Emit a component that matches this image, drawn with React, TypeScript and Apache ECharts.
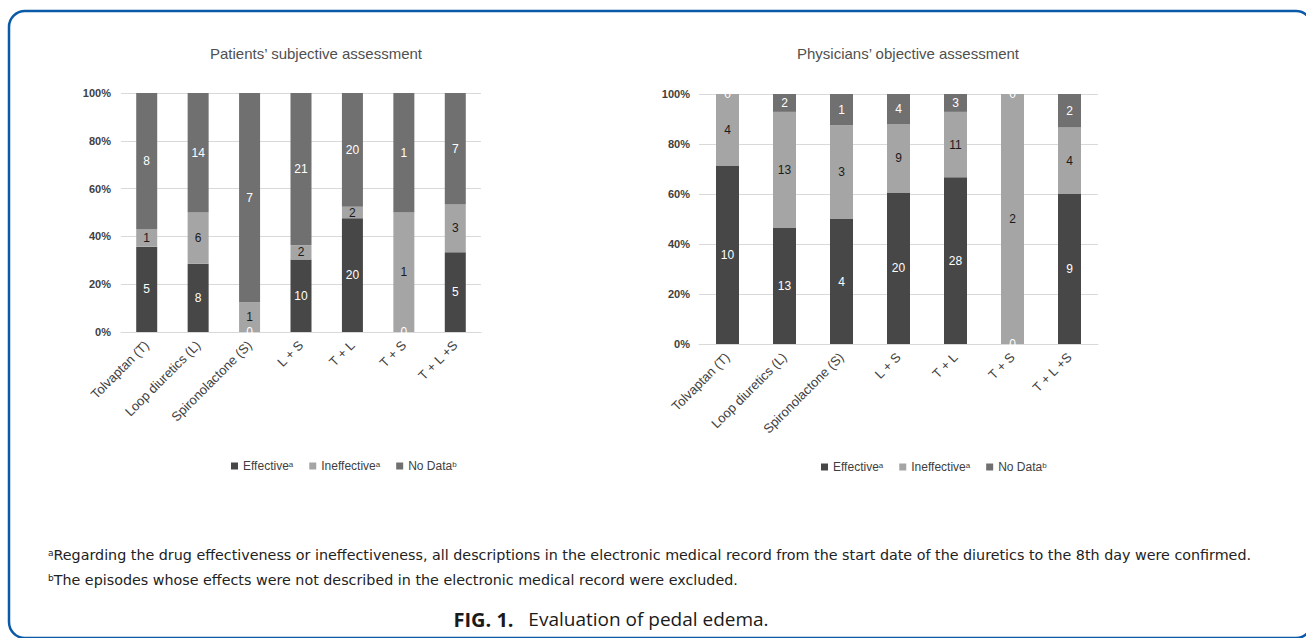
import React, { useEffect, useRef } from "react";
import * as echarts from "echarts";

const categories = ["Tolvaptan (T)", "Loop diuretics (L)", "Spironolactone (S)", "L + S", "T + L", "T + S", "T + L +S"];
const seriesNames = ["Effective", "Ineffective", "No Data"];
const seriesSup = ["a", "a", "b"];

const patientsEffective = [5, 8, 0, 10, 20, 0, 5];
const patientsIneffective = [1, 6, 1, 2, 2, 1, 3];
const patientsNoData = [8, 14, 7, 21, 20, 1, 7];

const physiciansEffective = [10, 13, 4, 20, 28, 0, 9];
const physiciansIneffective = [4, 13, 3, 9, 11, 2, 4];
const physiciansNoData = [0, 2, 1, 4, 3, 0, 2];

const yTicks = [0, 20, 40, 60, 80, 100];

const titles = ["Patients’ subjective assessment", "Physicians’ objective assessment"];
const footnoteA = "Regarding the drug effectiveness or ineffectiveness, all descriptions in the electronic medical record from the start date of the diuretics to the 8th day were confirmed.";
const footnoteB = "The episodes whose effects were not described in the electronic medical record were excluded.";
const captionBold = "FIG. 1.";
const captionText = "Evaluation of pedal edema.";

const colors = ["#474747", "#a5a5a5", "#707070"];
const labelColors = ["#ffffff", "#1a1a1a", "#ffffff"];

function buildSeries(groups: number[][], axisIndex: number, stack: string, barWidth: number) {
  const totals = groups[0].map((_, i) => groups.reduce((s, g) => s + g[i], 0));
  return groups.map((g, k) => ({
    name: seriesNames[k],
    type: "bar",
    stack,
    xAxisIndex: axisIndex,
    yAxisIndex: axisIndex,
    barWidth,
    itemStyle: { color: colors[k] },
    data: g.map((c, i) => (c / totals[i]) * 100),
    label: {
      show: true,
      position: "inside",
      color: labelColors[k],
      textBorderWidth: 0,
      textBorderColor: "transparent",
      fontSize: 12,
      fontFamily: "Liberation Sans",
      formatter: (p: any) => String(g[p.dataIndex]),
    },
  }));
}

export default function App() {
  const ref = useRef<HTMLDivElement>(null);
  useEffect(() => {
    if (!ref.current) return;
    const chart = echarts.init(ref.current, null, { renderer: "svg" });
    const legendRich = {
      n: { fontSize: 12, color: "#404040", fontFamily: "Liberation Sans" },
      s: { fontSize: 8, color: "#404040", verticalAlign: "top", fontFamily: "Liberation Sans" },
    };
    const legendBase = {
      data: seriesNames,
      icon: "rect",
      itemWidth: 7,
      itemHeight: 7,
      itemGap: 16,
      orient: "horizontal",
      formatter: (name: string) => `{n|${name}}{s|${seriesSup[seriesNames.indexOf(name)]}}`,
      textStyle: { rich: legendRich },
    };
    const xAxisBase = {
      type: "category",
      data: categories,
      axisTick: { show: false },
      axisLine: { lineStyle: { color: "#d9d9d9", width: 1 } },
      axisLabel: { rotate: 45, interval: 0, fontSize: 13, color: "#404040", fontFamily: "Liberation Sans", margin: 11 },
    };
    const yAxisBase = {
      type: "value",
      min: yTicks[0],
      max: yTicks[yTicks.length - 1],
      interval: yTicks[1] - yTicks[0],
      axisLine: { show: false },
      axisTick: { show: false },
      splitLine: { lineStyle: { color: "#d9d9d9", width: 1 } },
      axisLabel: { formatter: "{value}%", fontSize: 11, fontWeight: "bold", color: "#404040", fontFamily: "Liberation Sans", margin: 10 },
    };
    const titleStyle = { fontSize: 15, fontWeight: "normal", color: "#505050", fontFamily: "Liberation Sans" };
    const noteRich = {
      s: { fontSize: 9, verticalAlign: "top", fill: "#222", fontFamily: "DejaVu Sans" },
      n: { fontSize: 14.3, fill: "#222", fontFamily: "DejaVu Sans" },
    };
    chart.setOption({
      animation: false,
      backgroundColor: "#ffffff",
      title: [
        { text: titles[0], left: 311, top: 41, textAlign: "center", textStyle: titleStyle },
        { text: titles[1], left: 903, top: 41, textAlign: "center", textStyle: titleStyle },
      ],
      legend: [
        { ...legendBase, left: 226, top: 455 },
        { ...legendBase, left: 816, top: 456 },
      ],
      grid: [
        { left: 121, top: 93, width: 360, height: 239 },
        { left: 699, top: 94, width: 399, height: 250 },
      ],
      xAxis: [
        { ...xAxisBase, gridIndex: 0 },
        { ...xAxisBase, gridIndex: 1 },
      ],
      yAxis: [
        { ...yAxisBase, gridIndex: 0 },
        { ...yAxisBase, gridIndex: 1, axisLabel: { ...yAxisBase.axisLabel, margin: 9 } },
      ],
      series: [
        ...buildSeries([patientsEffective, patientsIneffective, patientsNoData], 0, "patients", 21),
        ...buildSeries([physiciansEffective, physiciansIneffective, physiciansNoData], 1, "physicians", 23),
      ],
      graphic: [
        {
          type: "rect",
          shape: { x: 9, y: 11, width: 1303, height: 627, r: 16 },
          style: { fill: "none", stroke: "#0a5aa8", lineWidth: 2.5 },
          silent: true,
        },
        {
          type: "text",
          x: 48,
          y: 555,
          style: { text: `{s|a}{n|${footnoteA}}`, verticalAlign: "middle", rich: noteRich },
        },
        {
          type: "text",
          x: 48,
          y: 580,
          style: { text: `{s|b}{n|${footnoteB}}`, verticalAlign: "middle", rich: noteRich },
        },
        {
          type: "text",
          x: 611,
          y: 619,
          style: {
            text: `{b|${captionBold}}{n|   ${captionText}}`,
            align: "center",
            verticalAlign: "middle",
            rich: {
              b: { fontSize: 20, fontWeight: "bold", fill: "#1a1a1a", fontFamily: "Open Sans" },
              n: { fontSize: 19, fill: "#1a1a1a", fontFamily: "Open Sans" },
            },
          },
        },
      ],
    });
    return () => chart.dispose();
  }, []);
  return <div ref={ref} style={{ position: "fixed", left: 0, top: 0, width: 1306, height: 638 }} />;
}
